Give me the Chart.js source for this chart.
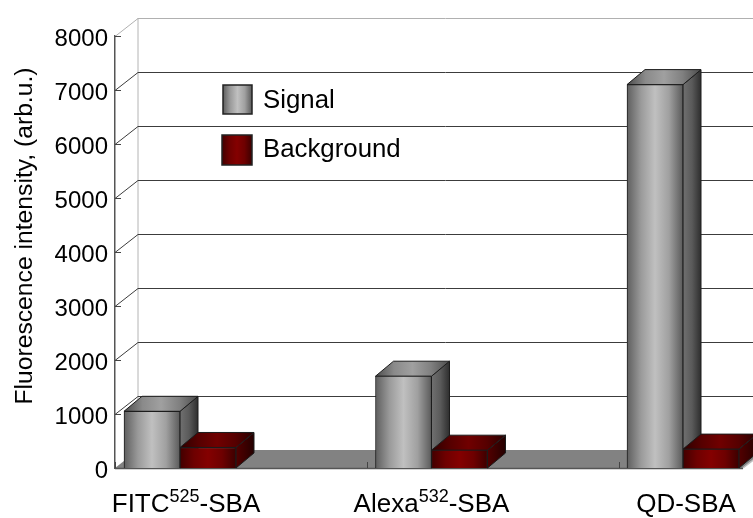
<!DOCTYPE html>
<html>
<head>
<meta charset="utf-8">
<title>Fluorescence intensity</title>
<script src="https://cdn.jsdelivr.net/npm/chart.js@4"></script>
<style>
  html, body { margin: 0; padding: 0; background: #fff; overflow: hidden; }
  canvas { display: block; }
</style>
</head>
<body>
<canvas id="chart" width="753" height="518"></canvas>
<script>
// Sample Data
const categories = ['FITC', 'Alexa', 'QD'];
const superscripts = ['525', '532', ''];
const labelSuffix = '-SBA';
const positions = [0, 1, 2];
const signal = [1050, 1700, 7100];
const background = [380, 330, 350];
const yTicks = [0, 1000, 2000, 3000, 4000, 5000, 6000, 7000, 8000];
const yTitle = 'Fluorescence intensity, (arb.u.)';

// The picture is cropped: one category is 251.5px, the axis starts 65px left of the first bar pair
const catWidth = 251.5;
const xMin = -65 / catWidth;
const xMax = 563 / catWidth;
const xTickValues = [xMin, xMin + 252 / catWidth, xMin + 504 / catWidth];

const barWidth = 56;
const barDepth = { x: 18, y: -15 };
const wallDepth = { x: 23, y: -18 };
const labelShift = [6, 0, 3];
const font = 'Liberation Sans, Arial, sans-serif';

const colors = {
  signal: {
    front: ['#5e5e5e', '#9a9a9a', '#c0c0c0', '#a0a0a0', '#5a5a5a'],
    top: ['#4c4c4c', '#8a8a8a', '#a0a0a0', '#808080', '#4c4c4c'],
    side: ['#707070', '#5a5a5a', '#2e2e2e']
  },
  background: {
    front: ['#420000', '#6e0000', '#840000', '#6e0000', '#3c0000'],
    top: ['#2e0000', '#560000', '#700000', '#560000', '#2a0000'],
    side: ['#520000', '#3c0000', '#240000']
  }
};

function hGradient(ctx, x0, x1, stops) {
  const g = ctx.createLinearGradient(x0, 0, x1, 0);
  stops.forEach((c, i) => g.addColorStop(i / (stops.length - 1), c));
  return g;
}

function frontFill(set, dir) {
  return (c) => {
    const cx = c.chart.scales.x ? c.chart.scales.x.getPixelForValue(positions[c.dataIndex]) : NaN;
    // the scale has no size yet on the first pass
    if (!Number.isFinite(cx)) return set.front[2];
    const x0 = dir < 0 ? cx - barWidth : cx;
    return hGradient(c.chart.ctx, x0, x0 + barWidth, set.front);
  };
}

function poly(ctx, pts, fill, stroke) {
  ctx.beginPath();
  pts.forEach((p, i) => (i ? ctx.lineTo(p[0], p[1]) : ctx.moveTo(p[0], p[1])));
  ctx.closePath();
  if (fill) { ctx.fillStyle = fill; ctx.fill(); }
  if (stroke) { ctx.strokeStyle = stroke; ctx.lineWidth = 1; ctx.stroke(); }
}

function line(ctx, pts, color, width) {
  ctx.beginPath();
  pts.forEach((p, i) => (i ? ctx.lineTo(p[0], p[1]) : ctx.moveTo(p[0], p[1])));
  ctx.strokeStyle = color;
  ctx.lineWidth = width || 1;
  ctx.stroke();
}

const scene3d = {
  id: 'scene3d',
  beforeDatasetsDraw(chart) {
    const { ctx, chartArea: a, scales: { x, y } } = chart;
    const canvasRight = chart.width;
    const y0 = y.getPixelForValue(0);
    const dx = wallDepth.x, dy = wallDepth.y;
    ctx.save();

    // floor
    poly(ctx, [[a.left, y0], [a.right, y0], [a.right + dx, y0 + dy], [a.left + dx, y0 + dy]], '#828282');

    // back wall edge, gridlines and their slanted part on the side wall
    line(ctx, [[a.left + dx, y.getPixelForValue(8000) + dy], [a.left + dx, y0 + dy]], '#b4b4b4', 1);
    yTicks.forEach((v) => {
      const py = Math.round(y.getPixelForValue(v)) + 0.5;
      if (v > 0) {
        const col = v === 8000 ? '#b0b0b0' : '#3c3c3c';
        line(ctx, [[a.left, py], [a.left + dx, py + dy], [canvasRight, py + dy]], col, 1);
        line(ctx, [[a.left, py], [a.left + 6, py]], '#444', 1);
      }
    });

    // front axis line and its category ticks
    line(ctx, [[a.left, y0 + 0.5], [a.right, y0 + 0.5]], '#555', 1.5);
    line(ctx, [[a.right, y0], [a.right + dx, y0 + dy]], '#c0c0c0', 1.5);
    xTickValues.forEach((v) => {
      const px = Math.round(x.getPixelForValue(v)) + 0.5;
      line(ctx, [[px, y0], [px, y0 - 6]], '#444', 1);
    });

    // top and side faces, left bar first so the right bar covers its side
    const sets = [colors.signal, colors.background];
    chart.data.datasets.forEach((ds, di) => {
      const set = sets[di];
      chart.getDatasetMeta(di).data.forEach((bar) => {
        const l = bar.x - barWidth / 2, r = bar.x + barWidth / 2;
        const t = bar.y, b = bar.base;
        const ddx = barDepth.x, ddy = barDepth.y;
        poly(ctx, [[r, t], [r + ddx, t + ddy], [r + ddx, b + ddy], [r, b]],
          hGradient(ctx, r, r + ddx, set.side), '#1c1c1c');
        poly(ctx, [[l, t], [r, t], [r + ddx, t + ddy], [l + ddx, t + ddy]],
          hGradient(ctx, l, r + ddx, set.top), '#1c1c1c');
      });
    });
    ctx.restore();
  },
  afterDraw(chart) {
    const { ctx, scales: { x } } = chart;
    ctx.save();
    ctx.fillStyle = '#000';
    ctx.textBaseline = 'alphabetic';
    ctx.textAlign = 'left';

    // category labels with superscripts
    categories.forEach((name, i) => {
      ctx.font = '26px ' + font;
      const w1 = ctx.measureText(name).width;
      const w3 = ctx.measureText(labelSuffix).width;
      ctx.font = '18px ' + font;
      const w2 = ctx.measureText(superscripts[i]).width;
      let px = x.getPixelForValue(positions[i]) + labelShift[i] - (w1 + w2 + w3) / 2;
      ctx.font = '26px ' + font;
      ctx.fillText(name, px, 512);
      px += w1;
      if (superscripts[i]) {
        ctx.font = '18px ' + font;
        ctx.fillText(superscripts[i], px, 502);
        px += w2;
      }
      ctx.font = '26px ' + font;
      ctx.fillText(labelSuffix, px, 512);
    });

    // axis title
    ctx.save();
    ctx.translate(32, 236);
    ctx.rotate(-Math.PI / 2);
    ctx.textAlign = 'center';
    ctx.font = '24.7px ' + font;
    ctx.fillText(yTitle, 0, 0);
    ctx.restore();

    // legend
    const legend = [
      { set: colors.signal, box: [223, 85, 29, 29], textY: 101 },
      { set: colors.background, box: [222, 135, 30, 30], textY: 150 }
    ];
    legend.forEach((item, i) => {
      const [bx, by, bw, bh] = item.box;
      ctx.fillStyle = hGradient(ctx, bx, bx + bw, item.set.front);
      ctx.fillRect(bx, by, bw, bh);
      ctx.strokeStyle = '#222';
      ctx.lineWidth = 1.5;
      ctx.strokeRect(bx, by, bw, bh);
      ctx.fillStyle = '#000';
      ctx.font = '25.8px ' + font;
      ctx.textBaseline = 'middle';
      ctx.fillText(chart.data.datasets[i].label, 263, item.textY);
    });
    ctx.restore();
  }
};

const chart = new Chart(document.getElementById('chart').getContext('2d'), {
  type: 'bar',
  data: {
    datasets: [
      {
        label: 'Signal',
        data: signal.map((v, i) => ({ x: positions[i], y: v })),
        backgroundColor: frontFill(colors.signal, -1),
        borderColor: '#1c1c1c',
        borderWidth: 1,
        barThickness: barWidth
      },
      {
        label: 'Background',
        data: background.map((v, i) => ({ x: positions[i], y: v })),
        backgroundColor: frontFill(colors.background, 1),
        borderColor: '#1c1c1c',
        borderWidth: 1,
        barThickness: barWidth
      }
    ]
  },
  options: {
    responsive: false,
    animation: false,
    layout: { padding: { top: 36, right: 10, bottom: 0, left: 0 } },
    plugins: { legend: { display: false }, tooltip: { enabled: false } },
    scales: {
      x: {
        type: 'linear',
        offset: false,
        min: xMin,
        max: xMax,
        grid: { display: false },
        border: { display: false },
        ticks: { display: false },
        afterFit: (s) => { s.height = 50; }
      },
      y: {
        min: 0,
        max: 8000,
        afterBuildTicks: (s) => { s.ticks = yTicks.map((v) => ({ value: v })); },
        afterFit: (s) => { s.width = 115; },
        grid: { display: false, drawTicks: false },
        border: { display: true, color: '#555', width: 1.5 },
        ticks: {
          color: '#000',
          padding: 7,
          labelOffset: 3,
          callback: (v) => String(v),
          font: { family: font, size: 24 }
        }
      }
    }
  },
  plugins: [scene3d]
});
</script>
</body>
</html>
